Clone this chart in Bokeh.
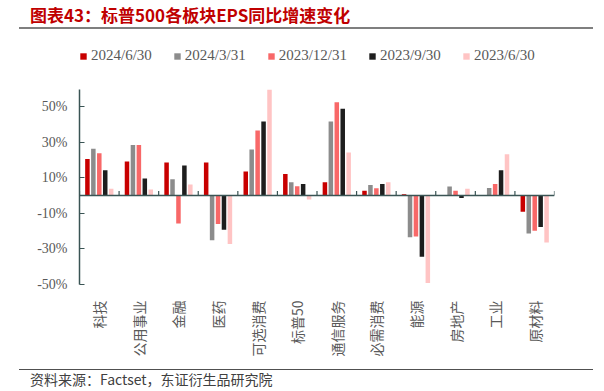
from bokeh.plotting import figure
from bokeh.models import (FactorRange, Range1d, FixedTicker, Span, Legend, LegendItem,
                          ColumnDataSource, Div)
from bokeh.layouts import column
from bokeh.transform import dodge
from bokeh.embed import file_html
from bokeh.resources import INLINE
from math import pi

categories = ["科技", "公用事业", "金融", "医药", "可选消费", "标普50", "通信服务", "必需消费", "能源", "房地产", "工业", "原材料"]
series_names = ["2024/6/30", "2024/3/31", "2023/12/31", "2023/9/30", "2023/6/30"]
s_2024_06 = [20.5, 19.0, 18.5, 18.5, 13.4, 12.1, 7.4, 2.7, 0.7, 0.0, 0.0, -9.1]
s_2024_03 = [26.2, 28.4, 9.1, -25.2, 25.8, 7.4, 41.5, 5.9, -23.4, 5.0, 4.2, -21.3]
s_2023_12 = [23.7, 28.4, -15.7, -16.0, 36.5, 5.2, 52.4, 4.0, -23.0, 2.7, 6.5, -19.8]
s_2023_09 = [14.2, 9.5, 16.8, -19.2, 41.5, 6.5, 48.7, 6.5, -34.4, -1.4, 14.2, -17.7]
s_2023_06 = [3.8, 3.3, 6.1, -27.3, 60.1, -2.2, 24.1, 7.4, -49.1, 3.8, 23.2, -26.4]
y_ticks = [-50, -30, -10, 10, 30, 50]
title_text = "图表43：标普500各板块EPS同比增速变化"
source_text = "资料来源：Factset，东证衍生品研究院"

colors = ["#c80000", "#8c8c8c", "#f86868", "#1e1e1e", "#ffc4c4"]
offsets = [-0.30, -0.15, 0.0, 0.15, 0.30]
axis_color = "#3a5454"
latin = "Liberation Serif"
cjk = "Noto Sans CJK SC"

src = ColumnDataSource(dict(cat=categories, a=s_2024_06, b=s_2024_03, c=s_2023_12, d=s_2023_09, e=s_2023_06))

p = figure(width=588, height=294, x_range=FactorRange(*categories), y_range=Range1d(-50, 59.5),
           output_backend="svg", toolbar_location=None,
           min_border_left=79, min_border_right=34, min_border_top=19, min_border_bottom=80)
p.outline_line_color = None
p.grid.visible = False

# legend strip: a small figure whose view lies far above the data, so only its legend shows
lf = figure(width=588, height=36, x_range=FactorRange(*categories), y_range=Range1d(1000, 1001),
            output_backend="svg", toolbar_location=None, x_axis_type=None, y_axis_type=None,
            min_border_left=79, min_border_right=34, min_border_top=0, min_border_bottom=0)
lf.outline_line_color = None
lf.grid.visible = False

items = []
for key, name, col, off in zip(["a", "b", "c", "d", "e"], series_names, colors, offsets):
    p.vbar(x=dodge("cat", off, range=p.x_range), top=key, bottom=0, width=0.114,
           source=src, fill_color=col, line_color=None)
    lr = lf.vbar(x=dodge("cat", off, range=lf.x_range), top=key, bottom=0, width=0.114,
                 source=src, fill_color=col, line_color=None)
    items.append(LegendItem(label=name, renderers=[lr]))

# zero line and category separators
p.add_layout(Span(location=0, dimension="width", line_color=axis_color, line_width=1.5))
bsrc = ColumnDataSource(dict(cat=categories, y0=[0] * len(categories), y1=[2.5] * len(categories)))
p.segment(x0=dodge("cat", -0.5, range=p.x_range), x1=dodge("cat", -0.5, range=p.x_range),
          y0="y0", y1="y1", source=bsrc, line_color=axis_color, line_width=1.2)
p.segment(x0=dodge("cat", 0.5, range=p.x_range), x1=dodge("cat", 0.5, range=p.x_range),
          y0="y0", y1="y1", source=ColumnDataSource(dict(cat=categories[-1:], y0=[0], y1=[2.5])),
          line_color=axis_color, line_width=1.2)

# y axis
ya = p.yaxis[0]
ya.ticker = FixedTicker(ticks=y_ticks)
ya.major_label_overrides = {t: f"{t}%" for t in y_ticks}
ya.axis_line_color = axis_color
ya.axis_line_width = 1.5
ya.major_tick_line_color = axis_color
ya.major_tick_line_width = 1.2
ya.major_tick_in = 5
ya.major_tick_out = 0
ya.minor_tick_line_color = None
ya.major_label_standoff = 12
ya.major_label_text_font = latin
ya.major_label_text_font_size = "14px"
ya.major_label_text_color = "#595959"

# x axis
xa = p.xaxis[0]
xa.axis_line_color = None
xa.major_tick_line_color = None
xa.minor_tick_line_color = None
xa.major_label_orientation = pi / 2
xa.major_label_standoff = 10
xa.major_label_text_font = cjk
xa.major_label_text_font_size = "14px"
xa.major_label_text_color = "#595959"

legend = Legend(items=items, orientation="horizontal", location=(0, 6),
                glyph_width=8, glyph_height=8, label_standoff=4, spacing=21,
                padding=0, margin=0, border_line_color=None, background_fill_alpha=0,
                label_text_font=latin, label_text_font_size="15px", label_text_color="#595959",
                label_height=16)
lf.add_layout(legend, "center")

title_div = Div(width=588, height=24, text=(
    '<div style="position:relative;width:588px;height:24px;">'
    '<div style="position:absolute;left:25px;top:0px;line-height:20px;white-space:nowrap;'
    "font-family:'Noto Sans CJK SC';font-size:17px;font-weight:bold;color:#c00000;\">"
    + title_text + '</div>'
    '<div style="position:absolute;left:14px;top:22px;width:574px;height:0px;'
    'border-top:2px solid #7f7f7f;"></div></div>'))
footer_div = Div(width=588, height=21, text=(
    '<div style="position:relative;width:588px;height:21px;">'
    '<div style="position:absolute;left:14px;top:0px;width:574px;height:0px;'
    'border-top:1.5px solid #505050;"></div>'
    '<div style="position:absolute;left:25px;top:0px;line-height:21px;white-space:nowrap;'
    "font-family:'Noto Sans CJK SC';font-size:14px;color:#404040;\">"
    + source_text + '</div></div>'))

layout = column(title_div, lf, p, footer_div, spacing=0)
open("out.html", "w").write(file_html(layout, INLINE))
